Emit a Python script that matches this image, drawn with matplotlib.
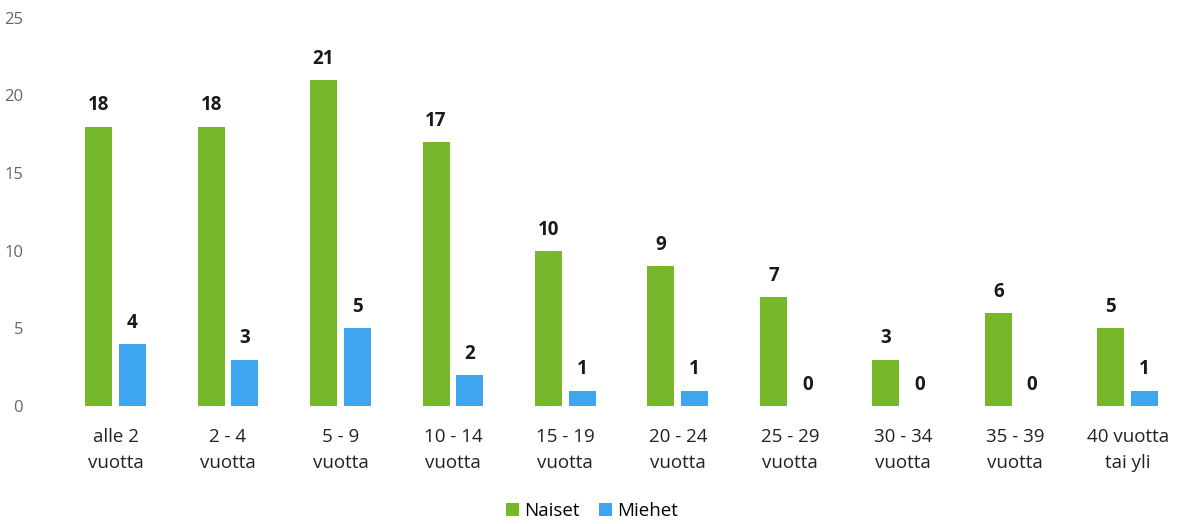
import numpy as np
import matplotlib

matplotlib.use("Agg")
import matplotlib.pyplot as plt

categories = ["alle 2\nvuotta", "2 - 4\nvuotta", "5 - 9\nvuotta", "10 - 14\nvuotta",
              "15 - 19\nvuotta", "20 - 24\nvuotta", "25 - 29\nvuotta", "30 - 34\nvuotta",
              "35 - 39\nvuotta", "40 vuotta\ntai yli"]
naiset = [18, 18, 21, 17, 10, 9, 7, 3, 6, 5]
miehet = [4, 3, 5, 2, 1, 1, 0, 0, 0, 1]

GREEN = "#77b82b"
BLUE = "#3ea6ee"

plt.rcParams["font.family"] = ["Open Sans", "DejaVu Sans"]

fig = plt.figure(figsize=(11.84, 5.24), dpi=100)
ax = fig.add_axes([0.05, 0.225, 0.95, 0.741])

x = np.arange(len(categories))
w = 0.24
off = 0.15
b1 = ax.bar(x - off, naiset, w, color=GREEN, label="Naiset")
b2 = ax.bar(x + off, miehet, w, color=BLUE, label="Miehet")

for bars, vals in ((b1, naiset), (b2, miehet)):
    for r, v in zip(bars, vals):
        ax.annotate(str(v), (r.get_x() + r.get_width() / 2, r.get_height()),
                    xytext=(0, 8), textcoords="offset points", ha="center", va="bottom",
                    fontsize=13.5, fontweight="bold", color="#1a1a1a")

ax.set_xlim(-0.5, len(categories) - 0.5)
ax.set_ylim(0, 25)
ax.set_yticks([0, 5, 10, 15, 20, 25])
ax.set_xticks(x)
ax.set_xticklabels(categories, fontsize=13.5, color="#222222", linespacing=1.55)
ax.tick_params(axis="y", labelsize=12, labelcolor="#666666", length=0, pad=26)
ax.tick_params(axis="x", length=0, pad=16)
for s in ax.spines.values():
    s.set_visible(False)

fig.legend(handles=[b1, b2], loc="lower center", bbox_to_anchor=(0.5, -0.025), ncol=2,
           frameon=False, fontsize=13.5, handlelength=0.7, handleheight=0.7,
           handletextpad=0.3, columnspacing=1.0)

fig.savefig("out.png", dpi=100)
